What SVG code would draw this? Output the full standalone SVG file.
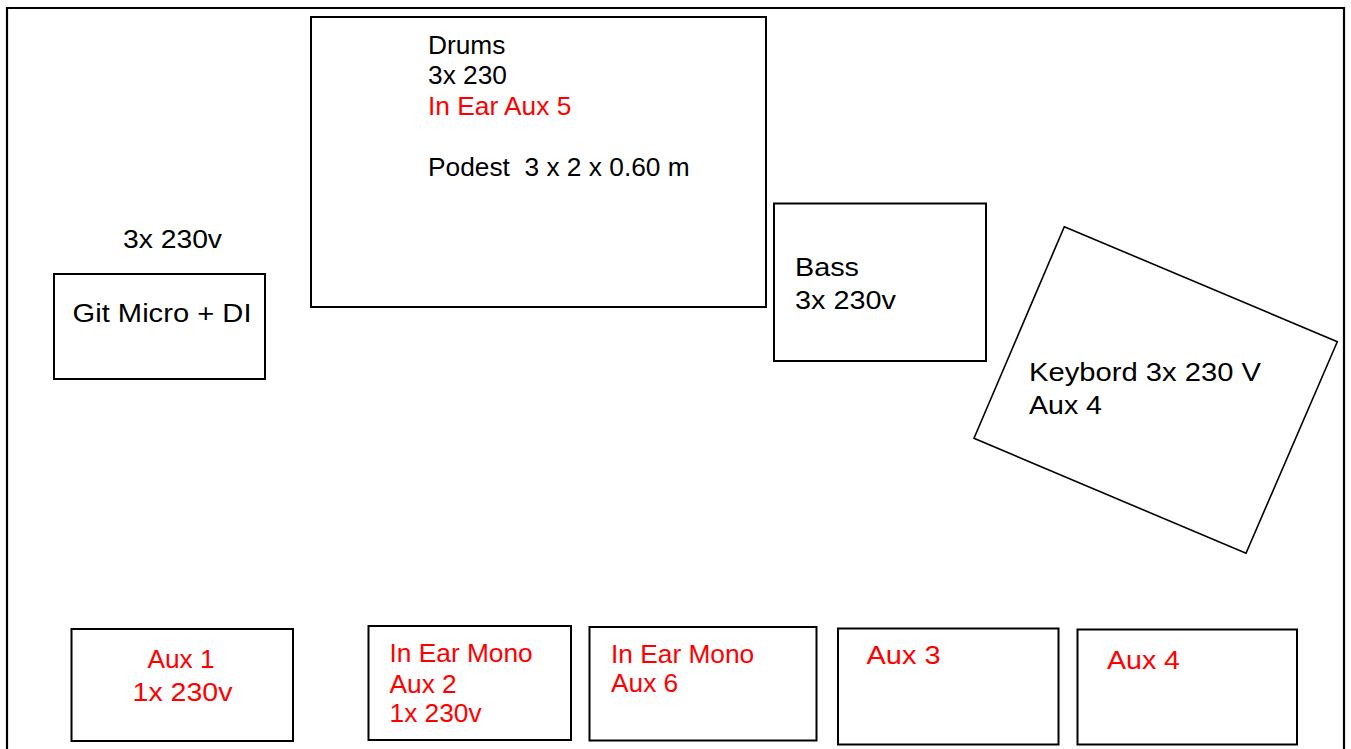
<svg xmlns="http://www.w3.org/2000/svg" width="1351" height="749" viewBox="0 0 1351 749">
<style>
  .box { fill: #ffffff; stroke: #000000; stroke-width: 2; }
  .thin { fill: #ffffff; stroke: #000000; stroke-width: 1.6; }
  .t { font-family: "Liberation Sans", Arial, sans-serif; font-size: 26.3px; fill: #000000; }
  .r { fill: #ff0000; }
</style>
<rect width="1351" height="749" fill="#ffffff"/>
<g id="stage-frame">
  <path d="M7,760 V8 H1344 V760" fill="none" stroke="#000000" stroke-width="2.2"/>
</g>
<g id="connectors"/>
<g id="drums">
  <rect class="box" x="311" y="17" width="455" height="290"/>
  <text class="t" x="428" y="53.5">Drums</text>
  <text class="t" x="428" y="84">3x 230</text>
  <text class="t r" x="428" y="114.5">In Ear Aux 5</text>
  <text class="t" x="428" y="175.5" xml:space="preserve">Podest  3 x 2 x 0.60 m</text>
</g>
<g id="git">
  <text class="t" x="123" y="248" textLength="99" lengthAdjust="spacingAndGlyphs">3x 230v</text>
  <rect class="box" x="54" y="274" width="211" height="105"/>
  <text class="t" x="72.5" y="321.5" font-size="25" textLength="179" lengthAdjust="spacingAndGlyphs">Git Micro + DI</text>
</g>
<g id="bass">
  <rect class="box" x="774" y="203.5" width="212" height="157.5"/>
  <text class="t" x="795" y="276" textLength="64" lengthAdjust="spacingAndGlyphs">Bass</text>
  <text class="t" x="795" y="309" textLength="101" lengthAdjust="spacingAndGlyphs">3x 230v</text>
</g>
<g id="keyboard">
  <polygon class="thin" points="1064.3,226.7 1337.3,341.7 1246,553.3 974,438.3"/>
  <text class="t" x="1029" y="381" font-size="28" textLength="232" lengthAdjust="spacingAndGlyphs">Keybord 3x 230 V</text>
  <text class="t" x="1029" y="414.3" font-size="28" textLength="73" lengthAdjust="spacingAndGlyphs">Aux 4</text>
</g>
<g id="aux1">
  <rect class="box" x="71.5" y="629" width="221.5" height="112"/>
  <text class="t r" x="181" y="668" font-size="28" text-anchor="middle">Aux 1</text>
  <text class="t r" x="182.5" y="701" font-size="28" text-anchor="middle" textLength="100" lengthAdjust="spacingAndGlyphs">1x 230v</text>
</g>
<g id="aux2">
  <rect class="box" x="368.5" y="626" width="202.5" height="114"/>
  <text class="t r" x="389.5" y="662">In Ear Mono</text>
  <text class="t r" x="389.5" y="692.5">Aux 2</text>
  <text class="t r" x="389.5" y="722">1x 230v</text>
</g>
<g id="aux6">
  <rect class="box" x="589.5" y="627" width="227" height="113.5"/>
  <text class="t r" x="611" y="662.7">In Ear Mono</text>
  <text class="t r" x="611" y="692.3">Aux 6</text>
</g>
<g id="aux3">
  <rect class="box" x="838" y="628.5" width="220.5" height="116" stroke-width="2.4"/>
  <text class="t r" x="866.5" y="664.3" font-size="27" textLength="74" lengthAdjust="spacingAndGlyphs">Aux 3</text>
</g>
<g id="aux4">
  <rect class="box" x="1077.5" y="629.5" width="219.5" height="115"/>
  <text class="t r" x="1107" y="669" font-size="28" textLength="73" lengthAdjust="spacingAndGlyphs">Aux 4</text>
</g>
</svg>
